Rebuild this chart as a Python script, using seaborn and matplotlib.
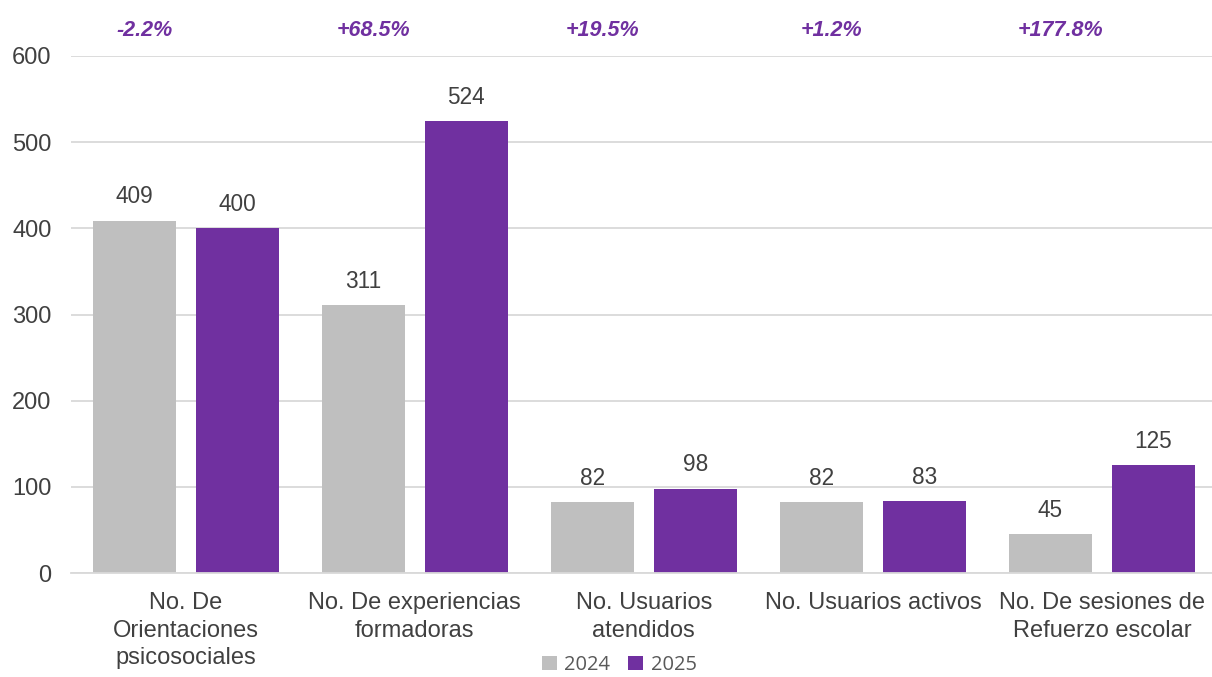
import matplotlib
matplotlib.use("Agg")
import matplotlib.pyplot as plt
import seaborn as sns
import pandas as pd

sns.set_style("white")
plt.rcParams["font.family"] = ["Liberation Sans", "DejaVu Sans"]

# Data
categories = [
    "No. De\nOrientaciones\npsicosociales",
    "No. De experiencias\nformadoras",
    "No. Usuarios\natendidos",
    "No. Usuarios activos",
    "No. De sesiones de\nRefuerzo escolar",
]
values_2024 = [409, 311, 82, 82, 45]
values_2025 = [400, 524, 98, 83, 125]
changes = ["-2.2%", "+68.5%", "+19.5%", "+1.2%", "+177.8%"]
years = ["2024", "2025"]

df = pd.DataFrame({
    "categoria": categories * 2,
    "valor": values_2024 + values_2025,
    "anio": [years[0]] * len(categories) + [years[1]] * len(categories),
})

gray = "#BFBFBF"
purple = "#7030A0"
text_col = "#404040"

fig = plt.figure(figsize=(12.12, 6.77), dpi=100)
ax = fig.add_axes([71 / 1212, 104 / 677, (1212 - 71) / 1212, 517 / 677])

sns.barplot(data=df, x="categoria", y="valor", hue="anio",
            palette=[gray, purple], width=0.9, gap=0.195,
            saturation=1, linewidth=0, ax=ax)

for cont in ax.containers:
    ax.bar_label(cont, padding=9, fontsize=16.3, color=text_col)

ax.set_ylim(0, 600)
ax.set_xlim(-0.5, 4.48)
ax.set_yticks(range(0, 601, 100))
ax.yaxis.grid(True, color="#D9D9D9", linewidth=1.3)
ax.set_axisbelow(True)
for s in ["top", "right", "left"]:
    ax.spines[s].set_visible(False)
ax.spines["bottom"].set_color("#D9D9D9")
ax.spines["bottom"].set_linewidth(1.3)
ax.tick_params(axis="both", length=0, labelsize=17, labelcolor=text_col)
ax.tick_params(axis="y", pad=14)
ax.tick_params(axis="x", pad=14)
for lbl in ax.get_xticklabels():
    lbl.set_linespacing(1.3)
ax.set_xlabel("")
ax.set_ylabel("")

# percentage change labels above each group
for i, txt in enumerate(changes):
    ax.text(i - 0.18, 1.05, txt, transform=ax.get_xaxis_transform(),
            ha="center", va="center", fontsize=15.5, fontweight="bold",
            fontstyle="italic", color=purple)

handles, labels = ax.get_legend_handles_labels()
ax.get_legend().remove()
fig.legend(handles, labels, loc="center", bbox_to_anchor=(0.511, 12 / 677),
           ncol=2, frameon=False, handlelength=0.75, handleheight=0.75,
           handletextpad=0.35, columnspacing=0.9,
           prop={"family": "Open Sans", "size": 14.5},
           labelcolor="#595959")

fig.savefig("out.png", dpi=100)
